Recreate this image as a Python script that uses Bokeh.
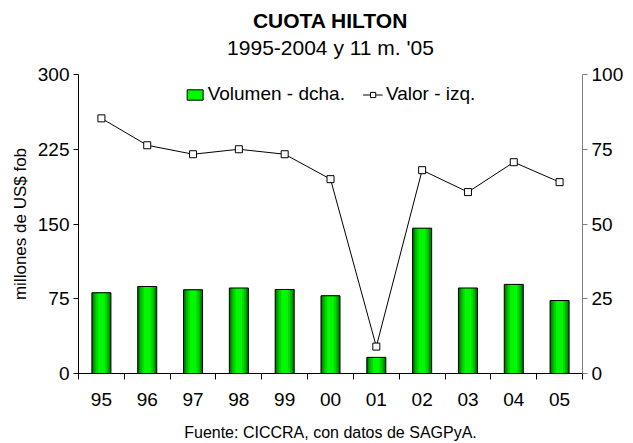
from bokeh.plotting import figure
from bokeh.models import (Range1d, LinearAxis, FixedTicker, Title, Legend,
                          LegendItem, ColumnDataSource)
from bokeh.embed import file_html
from bokeh.resources import INLINE

years = ["95", "96", "97", "98", "99", "00", "01", "02", "03", "04", "05"]
volumen = [27.0, 29.1, 28.0, 28.6, 28.1, 26.0, 5.4, 48.6, 28.6, 29.8, 24.4]   # right axis
valor = [256, 229, 220, 225, 220, 195, 27, 204, 182, 212, 192]                 # left axis
left_ticks = [0, 75, 150, 225, 300]
right_ticks = [0, 25, 50, 75, 100]
title_text = "CUOTA HILTON"
subtitle_text = "1995-2004 y 11 m. '05"
source_text = "Fuente: CICCRA, con datos de SAGPyA."

FONT = "Liberation Sans"

x = list(range(len(years)))
src = ColumnDataSource(dict(x=x, vol=volumen, val=valor))

p = figure(width=633, height=443, output_backend="svg", toolbar_location=None,
           x_range=Range1d(-0.5, len(years) - 0.5), y_range=Range1d(0, 300),
           min_border_left=78, min_border_right=51, min_border_top=74,
           min_border_bottom=70)
p.extra_y_ranges = {"right": Range1d(0, 100)}
p.outline_line_color = None
p.xgrid.visible = False
p.ygrid.visible = False
p.background_fill_color = "white"

# bars with simulated horizontal gradient
base = p.vbar(x="x", top="vol", width=0.415, bottom=0, source=src, y_range_name="right",
              fill_color="#006800", line_color=None)
inner = None
for w, c in [(0.37, "#009000"), (0.31, "#00b800"), (0.24, "#00d800"), (0.15, "#00f800")]:
    inner = p.vbar(x="x", top="vol", width=w, bottom=0, source=src, y_range_name="right",
                   fill_color=c, line_color=None)
outline = p.vbar(x="x", top="vol", width=0.415, bottom=0, source=src, y_range_name="right",
                 fill_color=None, line_color="black", line_width=1)

ln = p.line(x="x", y="val", source=src, line_color="black", line_width=1)
mk = p.scatter(x="x", y="val", source=src, marker="square", size=7,
               fill_color="white", line_color="black", line_width=1)

# x axis (source note used as the axis label below the tick labels)
xa = p.xaxis[0]
xa.ticker = FixedTicker(ticks=x, minor_ticks=[i - 0.5 for i in range(len(years) + 1)])
xa.major_label_overrides = {i: y for i, y in enumerate(years)}
xa.major_tick_in = 0
xa.major_tick_out = 0
xa.minor_tick_in = 0
xa.minor_tick_out = 6
xa.minor_tick_line_color = "black"
xa.axis_line_color = "black"
xa.major_label_text_font = FONT
xa.major_label_text_font_size = "19px"
xa.major_label_text_color = "black"
xa.major_label_standoff = 13
xa.axis_label = source_text
xa.axis_label_text_font = FONT
xa.axis_label_text_font_size = "16px"
xa.axis_label_text_font_style = "normal"
xa.axis_label_text_color = "black"
xa.axis_label_standoff = 15

# left axis
ya = p.yaxis[0]
ya.ticker = FixedTicker(ticks=left_ticks)
ya.minor_tick_line_color = None
ya.major_tick_in = 0
ya.major_tick_out = 5
ya.axis_line_color = "black"
ya.major_label_text_font = FONT
ya.major_label_text_font_size = "19px"
ya.major_label_text_color = "black"
ya.axis_label = "millones de US$ fob"
ya.axis_label_text_font = FONT
ya.axis_label_text_font_size = "17px"
ya.axis_label_text_font_style = "normal"
ya.axis_label_text_color = "black"
ya.axis_label_standoff = 5
ya.major_label_standoff = 4

# right axis
ra = LinearAxis(y_range_name="right", ticker=FixedTicker(ticks=right_ticks))
ra.minor_tick_line_color = None
ra.major_tick_in = 0
ra.major_tick_out = 5
ra.axis_line_color = "#808080"
ra.major_tick_line_color = "#808080"
ra.major_label_text_font = FONT
ra.major_label_text_font_size = "19px"
ra.major_label_text_color = "black"
ra.major_label_standoff = 4
p.add_layout(ra, "right")

legend = Legend(items=[LegendItem(label="Volumen - dcha.", renderers=[inner, outline]),
                       LegendItem(label="Valor - izq.", renderers=[ln, mk])],
                orientation="horizontal", location="top_center",
                border_line_color=None, background_fill_alpha=0,
                label_text_font=FONT, label_text_font_size="19px",
                label_text_color="black",
                glyph_width=20, glyph_height=13, label_standoff=3, spacing=18,
                margin=9, padding=4)
p.add_layout(legend, "center")

sub = Title(text=subtitle_text, align="center", text_font=FONT, text_color="black",
            text_font_size="21px", text_font_style="normal", standoff=31)
main = Title(text=title_text, align="center", text_font=FONT, text_color="black",
             text_font_size="21px", text_font_style="bold", standoff=-27)
p.add_layout(sub, "above")
p.add_layout(main, "above")

open("out.html", "w").write(file_html(p, INLINE))
